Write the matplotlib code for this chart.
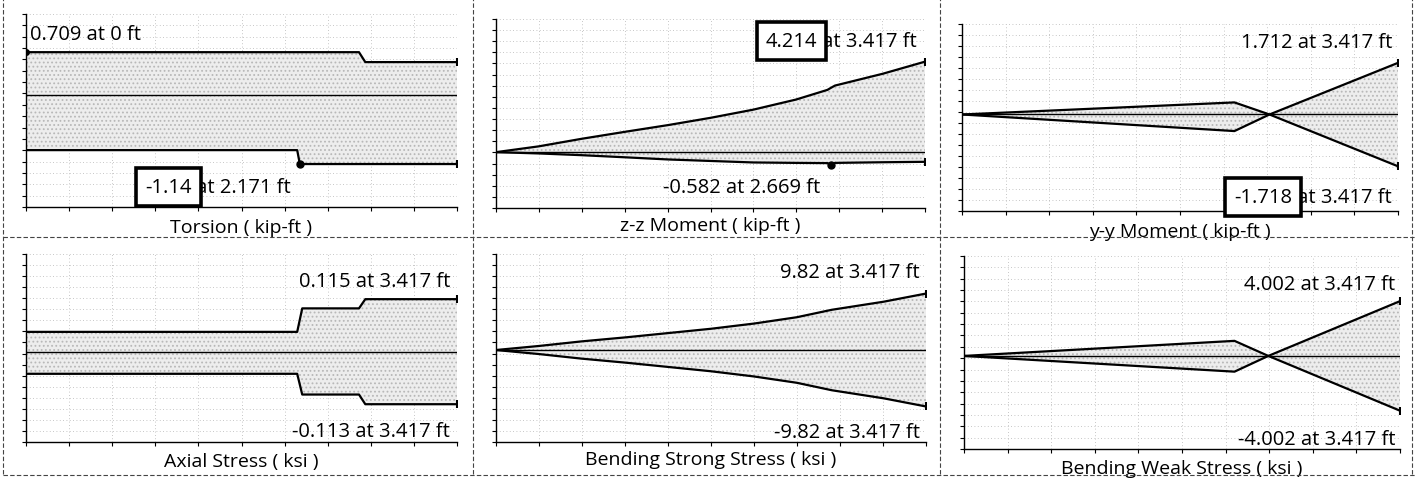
import numpy as np
import matplotlib
matplotlib.use("Agg")
import matplotlib.pyplot as plt
from matplotlib.lines import Line2D

plt.rcParams['font.family'] = ['Open Sans', 'DejaVu Sans']
plt.rcParams['hatch.linewidth'] = 0.8

# ---- member length (ft) ----
L = 3.417

# ---- Torsion (kip-ft) ----
tor_x = [0, 2.15, 2.171, 2.64, 2.69, 3.417]
tor_max = [0.709, 0.709, 0.709, 0.709, 0.545, 0.545]
tor_min = [-0.91, -0.91, -1.14, -1.14, -1.14, -1.14]

# ---- z-z Moment (kip-ft) ----
zz_x = [0, 0.34, 0.68, 1.03, 1.37, 1.71, 2.05, 2.39, 2.64, 2.669, 2.70, 3.08, 3.417]
zz_max = [0, 0.27, 0.62, 0.95, 1.26, 1.6, 1.98, 2.45, 2.9, 3.0, 3.1, 3.65, 4.214]
zz_min = [0, -0.06, -0.14, -0.24, -0.34, -0.41, -0.48, -0.50, -0.51, -0.582, -0.50, -0.47, -0.45]

# ---- y-y Moment (kip-ft) ----
yy_x = [0, 2.135, 2.41, 3.417]
yy_a = [0, 0.40, 0, -1.718]
yy_b = [0, -0.55, 0, 1.712]

# ---- Axial Stress (ksi) ----
axs_x = [0, 2.15, 2.19, 2.64, 2.69, 3.417]
axs_max = [0.044, 0.044, 0.095, 0.095, 0.115, 0.115]
axs_min = [-0.047, -0.047, -0.092, -0.092, -0.113, -0.113]

# ---- Bending Strong Stress (ksi) ----
bss_x = [0, 0.34, 0.68, 1.03, 1.37, 1.71, 2.05, 2.39, 2.669, 3.08, 3.417]
bss_max = [0, 0.7, 1.5, 2.2, 2.95, 3.7, 4.6, 5.7, 7.0, 8.4, 9.82]
bss_min = [0, -0.7, -1.5, -2.2, -2.95, -3.7, -4.6, -5.7, -7.0, -8.4, -9.82]

# ---- Bending Weak Stress (ksi) ----
bws_x = [0, 2.12, 2.385, 3.417]
bws_a = [0, 1.1, 0, -4.002]
bws_b = [0, -1.15, 0, 4.002]

titles = ["Torsion ( kip-ft )", "z-z Moment ( kip-ft )", "y-y Moment ( kip-ft )",
          "Axial Stress ( ksi )", "Bending Strong Stress ( ksi )", "Bending Weak Stress ( ksi )"]

FS = 14.5
FS_TITLE = 14
W, H = 1422, 485
fig = plt.figure(figsize=(W / 100, H / 100), dpi=100)


def add_axes(left, top, right, bottom):
    return fig.add_axes([left / W, 1 - bottom / H, (right - left) / W, (bottom - top) / H])


def style(ax, ylim, title, title_off):
    ax.set_xlim(0, L)
    ax.set_ylim(*ylim)
    ax.set_xticks(np.linspace(0, L, 11))
    ax.set_yticks(np.linspace(ylim[0], ylim[1], 18))
    ax.tick_params(direction='out', length=3, width=0.8, labelbottom=False, labelleft=False)
    for s in ('top', 'right'):
        ax.spines[s].set_visible(False)
    for s in ('left', 'bottom'):
        ax.spines[s].set_linewidth(1.0)
    ax.grid(True, color='#b4b4b4', linestyle=(0, (1, 3)), linewidth=0.6)
    ax.set_axisbelow(True)
    ax.axhline(0, color='black', lw=1.0, zorder=2)
    ax.set_xlabel(title, fontsize=FS_TITLE, va='center')
    ax.xaxis.set_label_coords(0.5, -title_off)


def envelope(ax, x, a, b):
    ax.fill_between(x, a, b, facecolor='#ededed', hatch='....', edgecolor='#b8b8b8',
                    linewidth=0, zorder=1)
    for y in (a, b):
        ax.plot(x, y, color='black', lw=1.6, zorder=3)
        ax.plot([x[-1]], [y[-1]], marker='|', ms=6, mew=1.5, color='black', zorder=3)


def value_label(ax, fx, fy, value, pos, boxed=False, ha='right'):
    val = f"{value:g}"
    rest = f" at {pos:g} ft"
    if not boxed:
        ax.text(fx, fy, val + rest, transform=ax.transAxes, ha=ha, va='center',
                fontsize=FS, zorder=5)
        return
    box = dict(boxstyle='square,pad=0.45', fc='white', ec='black', lw=2.6)
    if ha == 'right':
        t_rest = ax.text(fx, fy, rest, transform=ax.transAxes, ha='right', va='center',
                         fontsize=FS, zorder=5)
        ax.annotate(val, xy=(0, 0.5), xycoords=t_rest, ha='right', va='center',
                    fontsize=FS, bbox=box, zorder=6)
    else:
        t_val = ax.text(fx, fy, val, transform=ax.transAxes, ha='left', va='center',
                        fontsize=FS, bbox=box, zorder=6)
        ax.annotate(rest, xy=(1, 0.5), xycoords=t_val, ha='left', va='center',
                    fontsize=FS, zorder=5)


# Torsion
ax1 = add_axes(26, 15, 457, 208)
style(ax1, (-1.85, 1.34), titles[0], 0.104)
envelope(ax1, tor_x, tor_max, tor_min)
ax1.plot([tor_x[0]], [tor_max[0]], 'o', color='black', ms=4, zorder=4)
ax1.plot([tor_x[2]], [tor_min[2]], 'o', color='black', ms=5, zorder=4)
value_label(ax1, 0.01, 0.896, tor_max[0], tor_x[0], ha='left')
value_label(ax1, 0.276, 0.104, tor_min[2], tor_x[2], boxed=True, ha='left')

# z-z Moment
ax2 = add_axes(496, 20, 925, 209)
style(ax2, (-2.6, 6.2), titles[1], 0.09)
envelope(ax2, zz_x, zz_max, zz_min)
ax2.plot([zz_x[9]], [zz_min[9]], 'o', color='black', ms=5, zorder=4)
value_label(ax2, 0.981, 0.884, zz_max[-1], zz_x[-1], boxed=True)
value_label(ax2, 0.755, 0.111, zz_min[9], zz_x[9])

# y-y Moment
ax3 = add_axes(962, 25, 1398, 212)
style(ax3, (-3.2, 3.0), titles[2], 0.105)
envelope(ax3, yy_x, yy_a, yy_b)
value_label(ax3, 0.986, 0.904, yy_b[-1], yy_x[-1])
value_label(ax3, 0.986, 0.075, yy_a[-1], yy_x[-1], boxed=True)

# Axial Stress
ax4 = add_axes(26, 255, 457, 443)
style(ax4, (-0.195, 0.213), titles[3], 0.101)
envelope(ax4, axs_x, axs_max, axs_min)
value_label(ax4, 0.984, 0.856, axs_max[-1], axs_x[-1])
value_label(ax4, 0.984, 0.059, axs_min[-1], axs_x[-1])

# Bending Strong Stress
ax5 = add_axes(496, 255, 926, 443)
style(ax5, (-16.0, 16.7), titles[4], 0.09)
envelope(ax5, bss_x, bss_max, bss_min)
value_label(ax5, 0.986, 0.904, bss_max[-1], bss_x[-1])
value_label(ax5, 0.986, 0.053, bss_min[-1], bss_x[-1])

# Bending Weak Stress
ax6 = add_axes(964, 257, 1400, 450)
style(ax6, (-6.8, 7.3), titles[5], 0.1)
envelope(ax6, bws_x, bws_a, bws_b)
value_label(ax6, 0.989, 0.855, bws_b[-1], bws_x[-1])
value_label(ax6, 0.989, 0.052, bws_a[-1], bws_x[-1])

# panel separators
sep = dict(color='#444444', lw=0.8, linestyle=(0, (4, 2)))
for px in (3, 473, 940, 1412):
    fig.add_artist(Line2D([px / W, px / W], [0.02, 1.0], **sep))
for py in (238, 476):
    fig.add_artist(Line2D([0.002, 0.995], [1 - py / H, 1 - py / H], **sep))

fig.savefig("out.png", dpi=100)
